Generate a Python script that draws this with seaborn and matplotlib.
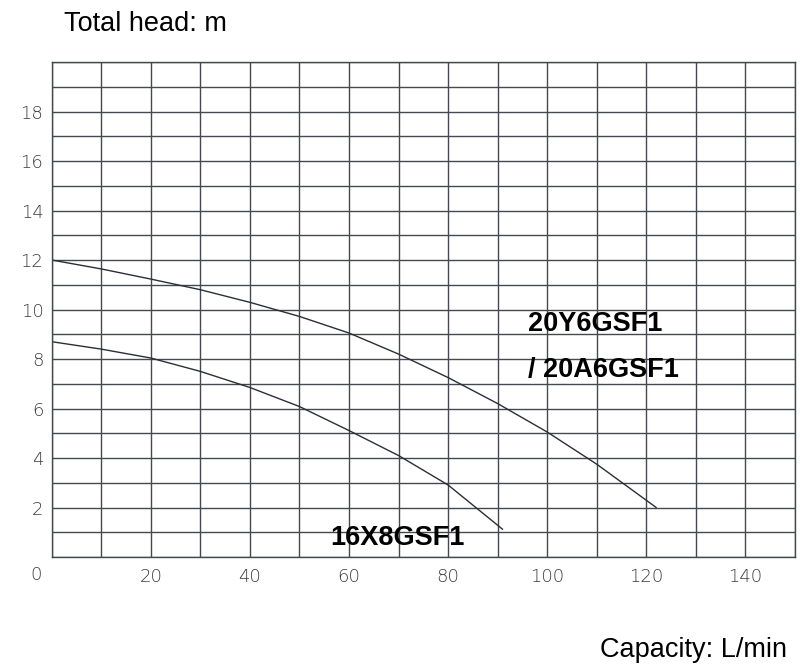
import pandas as pd
import matplotlib
matplotlib.use("Agg")
import matplotlib.pyplot as plt
import seaborn as sns

# pump curves (capacity L/min, total head m)
cap_20y6 = [0, 10, 20, 30, 40, 50, 60, 70, 80, 90, 100, 110, 122]
head_20y6 = [12.0, 11.64, 11.23, 10.8, 10.29, 9.72, 9.05, 8.2, 7.25, 6.2, 5.05, 3.75, 2.0]

cap_16x8 = [0, 10, 20, 30, 40, 50, 60, 70, 80, 91]
head_16x8 = [8.7, 8.4, 8.04, 7.5, 6.85, 6.08, 5.11, 4.1, 2.91, 1.12]

x_ticks = list(range(0, 151, 10))
x_labels = ["" if (t % 20 or t == 0) else str(t) for t in x_ticks]
y_ticks = list(range(0, 21))
y_labels = [str(t) if (t % 2 == 0 and 0 < t < 20) else "" for t in y_ticks]

df = pd.concat([
    pd.DataFrame({"cap": cap_20y6, "head": head_20y6, "model": "20Y6GSF1"}),
    pd.DataFrame({"cap": cap_16x8, "head": head_16x8, "model": "16X8GSF1"}),
])

sns.set_style("white")
plt.rcParams["font.family"] = ["Liberation Sans", "DejaVu Sans"]
plt.rcParams["text.color"] = "black"

line_col = "#45484f"
tick_col = "#3c3c3c"
fig = plt.figure(figsize=(8.07, 6.64), dpi=100)
ax = fig.add_axes([0.0641, 0.1611, 0.9851 - 0.0641, 0.9066 - 0.1611])

sns.lineplot(data=df, x="cap", y="head", hue="model", units="model",
             estimator=None, sort=False, palette=["#2b2e36", "#2b2e36"],
             linewidth=1.0, legend=False, ax=ax)

ax.set_xlim(0, 150)
ax.set_ylim(0, 20)
ax.set_xticks(x_ticks)
ax.set_xticklabels(x_labels)
ax.set_yticks(y_ticks)
ax.set_yticklabels(y_labels)
ax.tick_params(length=0, labelsize=13, labelcolor=tick_col)
ax.tick_params(axis="x", pad=8)
ax.tick_params(axis="y", pad=6)
for lab in ax.get_xticklabels() + ax.get_yticklabels():
    lab.set_family("DejaVu Sans")
    lab.set_fontweight("light")
ax.grid(True, color=line_col, linewidth=1.0)
for s in ax.spines.values():
    s.set_color(line_col)
    s.set_linewidth(1.0)
ax.set_xlabel("")
ax.set_ylabel("")

# origin label sits left of the corner
ax.annotate("0", xy=(0, 0), xycoords="data", xytext=(-16, -18),
            textcoords="offset pixels", ha="center", va="center",
            fontsize=13, color=tick_col, family="DejaVu Sans",
            fontweight="light")

ax.text(96.2, 9.4, "20Y6GSF1", fontsize=19.5, fontweight="bold",
        va="center", ha="left", color="black")
ax.text(96.1, 7.56, "/ 20A6GSF1", fontsize=19.5, fontweight="bold",
        va="center", ha="left", color="black")
ax.text(56.2, 0.77, "16X8GSF1", fontsize=19.5, fontweight="bold",
        va="center", ha="left", color="black")

fig.text(64 / 807, 1 - 31 / 664, "Total head: m", fontsize=19.5,
         va="baseline", ha="left", color="black")
fig.text(787 / 807, 1 - 657 / 664, "Capacity: L/min", fontsize=19.5,
         va="baseline", ha="right", color="black")

fig.savefig("out.png", dpi=100)
